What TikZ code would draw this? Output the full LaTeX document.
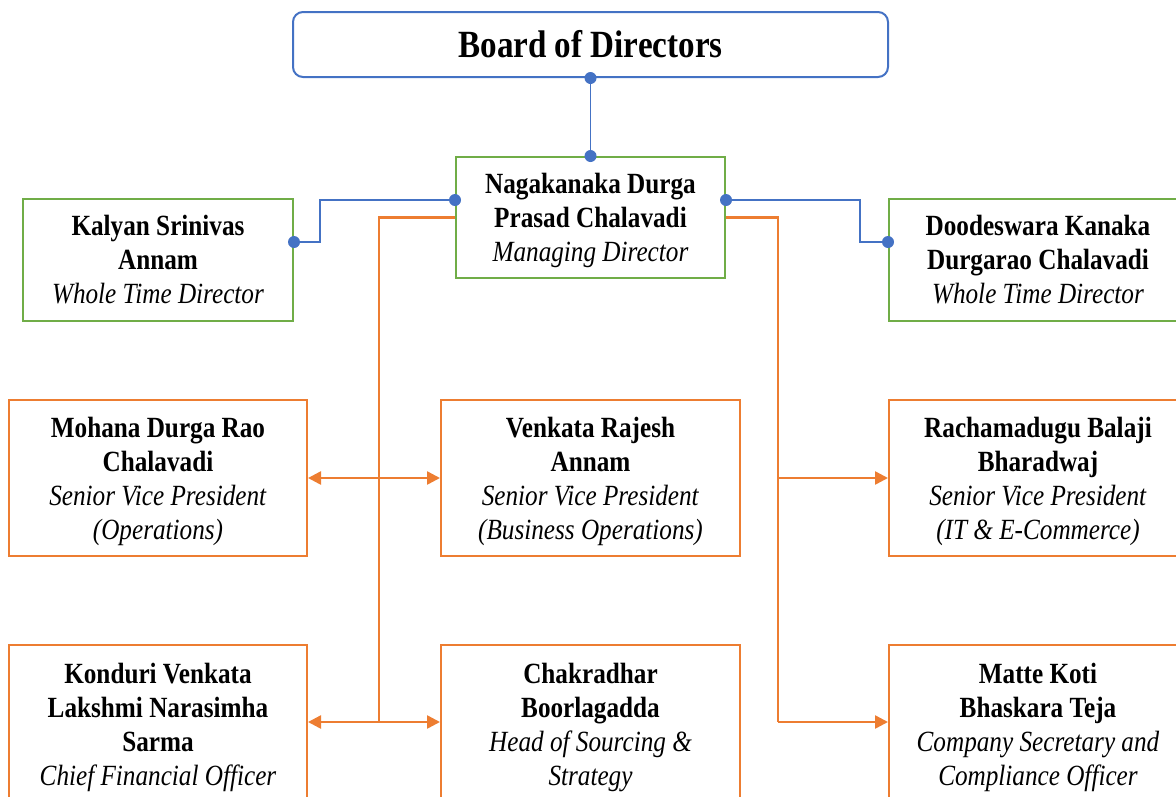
\documentclass[tikz,border=0pt]{standalone}
\usepackage{fontspec}
\setmainfont[FakeStretch=0.86]{Liberation Serif}
\usetikzlibrary{arrows.meta}
\definecolor{cblue}{HTML}{4472C4}
\definecolor{cgreen}{HTML}{70AD47}
\definecolor{corange}{HTML}{ED7D31}
\newcommand\topstrut[1]{\rule{0pt}{#1}}
\tikzset{
  box/.style={draw, line width=2pt, align=center, inner sep=0pt, font=\fontsize{29.3}{34}\selectfont},
  gbox/.style={box, draw=cgreen},
  obox/.style={box, draw=corange},
  bline/.style={draw=cblue, line width=1.2pt},
  oline/.style={draw=corange, line width=2.5pt},
  oarrow/.style={oline, -{Triangle[length=13pt,width=13pt]}},
  bdot/.style={circle, fill=cblue, inner sep=0pt, minimum size=12pt},
}
\begin{document}
\begin{tikzpicture}[x=1pt,y=-1pt]
\useasboundingbox (0,0) rectangle (1176,796);
\clip (0,0) rectangle (1176,796);
% boxes
\node[box, draw=cblue, rounded corners=10pt, minimum width=595pt, minimum height=65pt,
      font=\fontsize{38.5}{42}\selectfont\bfseries] (board) at (590.5,44.5) {Board of Directors};
\node[gbox, minimum width=269pt, minimum height=121pt] (md) at (590.5,217.5)
  {\topstrut{27pt}\textbf{Nagakanaka Durga}\\\textbf{Prasad Chalavadi}\\\textit{Managing Director}};
\node[gbox, minimum width=270pt, minimum height=122pt] (kal) at (158,260)
  {\textbf{Kalyan Srinivas}\\\textbf{Annam}\\\textit{Whole Time Director}};
\node[gbox, minimum width=298pt, minimum height=122pt] (dood) at (1038,260)
  {\textbf{Doodeswara Kanaka}\\\textbf{Durgarao Chalavadi}\\\textit{Whole Time Director}};
\node[obox, minimum width=298pt, minimum height=156pt] (moh) at (158,478)
  {\topstrut{28pt}\textbf{Mohana Durga Rao}\\\textbf{Chalavadi}\\\textit{Senior Vice President}\\\textit{(Operations)}};
\node[obox, minimum width=299pt, minimum height=156pt] (ven) at (590.5,478)
  {\topstrut{28pt}\textbf{Venkata Rajesh}\\\textbf{Annam}\\\textit{Senior Vice President}\\\textit{(Business Operations)}};
\node[obox, minimum width=298pt, minimum height=156pt] (rac) at (1038,478)
  {\topstrut{28pt}\textbf{Rachamadugu Balaji}\\\textbf{Bharadwaj}\\\textit{Senior Vice President}\\\textit{(IT \& E-Commerce)}};
\node[obox, minimum width=298pt, minimum height=160pt] (kon) at (158,725)
  {\topstrut{25pt}\textbf{Konduri Venkata}\\\textbf{Lakshmi Narasimha}\\\textbf{Sarma}\\\textit{Chief Financial Officer}};
\node[obox, minimum width=299pt, minimum height=160pt] (cha) at (590.5,725)
  {\topstrut{25pt}\textbf{Chakradhar}\\\textbf{Boorlagadda}\\\textit{Head of Sourcing \&}\\\textit{Strategy}};
\node[obox, minimum width=298pt, minimum height=160pt] (mat) at (1038,725)
  {\topstrut{25pt}\textbf{Matte Koti}\\\textbf{Bhaskara Teja}\\\textit{Company Secretary and}\\\textit{Compliance Officer}};
% connection points
\coordinate (mdL) at (md.west |- 0,200);
\coordinate (mdR) at (md.east |- 0,200);
\coordinate (mdL2) at (md.west |- 0,217.5);
\coordinate (mdR2) at (md.east |- 0,217.5);
\coordinate (kalR) at ([yshift=18pt]kal.east);
\coordinate (doodL) at ([yshift=18pt]dood.west);
\coordinate (bl1) at (320,200);
\coordinate (bl2) at (860,200);
\coordinate (tl0) at (379,217.5);
\coordinate (tl2) at (379,478);
\coordinate (tl3) at (379,722);
\coordinate (tr0) at (778,217.5);
\coordinate (tr2) at (778,478);
\coordinate (tr3) at (778,722);
% blue connectors
\draw[bline] (board.south) -- (md.north);
\draw[bline] (mdL) -- (bl1) |- (kalR);
\draw[bline] (mdR) -- (bl2) |- (doodL);
% orange connectors
\draw[oline] (mdL2) -- (tl0) -- (tl3);
\draw[oline] (mdR2) -- (tr0) -- (tr3);
\draw[oarrow] (tl2) -- (tl2 -| moh.east);
\draw[oarrow] (tl2) -- (tl2 -| ven.west);
\draw[oarrow] (tl3) -- (tl3 -| kon.east);
\draw[oarrow] (tl3) -- (tl3 -| cha.west);
\draw[oarrow] (tr2) -- (tr2 -| rac.west);
\draw[oarrow] (tr3) -- (tr3 -| mat.west);
% dots
\node[bdot] (d1) at (board.south) {};
\node[bdot] (d2) at (md.north) {};
\node[bdot] (d3) at (mdL) {};
\node[bdot] (d4) at (mdR) {};
\node[bdot] (d5) at (kalR) {};
\node[bdot] (d6) at (doodL) {};
\end{tikzpicture}
\end{document}
